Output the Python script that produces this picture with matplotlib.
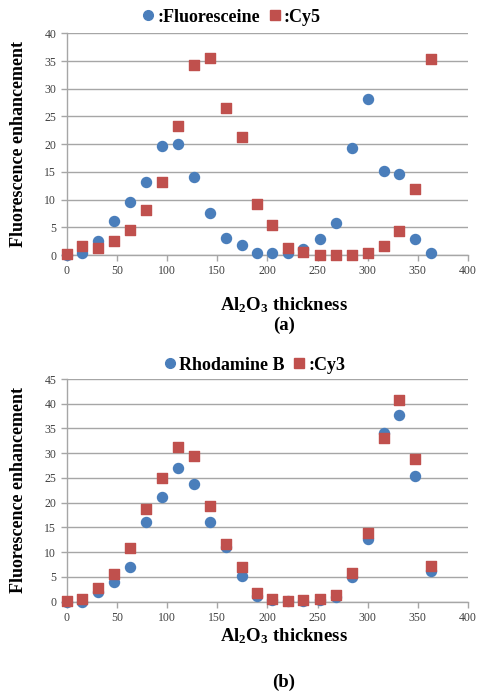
import matplotlib
matplotlib.use("Agg")
import matplotlib.pyplot as plt
from matplotlib.lines import Line2D

plt.rcParams["mathtext.default"] = "regular"

# ---- data ----
thick_a = [0, 15.5, 31, 47, 63, 79, 95, 111, 127, 143, 159, 175, 190, 205, 221, 236, 252, 268, 284, 300, 316, 331, 347, 363]
fluorescein = [0, 0.4, 2.6, 6.2, 9.6, 13.1, 19.7, 20.1, 14.1, 7.6, 3.0, 1.8, 0.3, 0.4, 0.3, 1.1, 2.8, 5.8, 19.3, 28.1, 15.2, 14.7, 2.9, 0.3]
cy5 = [0.1, 1.6, 1.2, 2.6, 4.5, 8.1, 13.2, 23.3, 34.2, 35.6, 26.5, 21.2, 9.2, 5.4, 1.2, 0.5, 0.0, 0.05, 0.0, 0.4, 1.6, 4.3, 11.9, 35.3]

thick_b = [0, 15.5, 31, 47, 63, 79, 95, 111, 127, 143, 159, 175, 190, 205, 221, 236, 252, 268, 284, 300, 316, 331, 347, 363]
rhodamine = [0, 0, 1.9, 4.0, 6.9, 16.1, 21.1, 27.0, 23.8, 16.1, 11.0, 5.2, 1.2, 0.3, 0.1, 0.2, 0.3, 1.0, 5.0, 12.6, 34.0, 37.7, 25.3, 6.2]
cy3 = [0.2, 0.5, 2.7, 5.6, 10.8, 18.7, 24.9, 31.3, 29.5, 19.4, 11.7, 6.9, 1.7, 0.5, 0.2, 0.35, 0.5, 1.3, 5.7, 13.9, 33.0, 40.7, 28.9, 7.2]

yticks_a = [0, 5, 10, 15, 20, 25, 30, 35, 40]
yticks_b = [0, 5, 10, 15, 20, 25, 30, 35, 40, 45]
xticks = [0, 50, 100, 150, 200, 250, 300, 350, 400]

BLUE = "#4A7EBB"
RED = "#C0504D"
SERIF = ["Liberation Serif", "DejaVu Serif"]

fig = plt.figure(figsize=(4.78, 6.93), dpi=100)
W, H = 478, 693

def ax_rect(left, right, top, bottom):
    return [left / W, 1 - bottom / H, (right - left) / W, (bottom - top) / H]

def style(ax, yticks):
    ax.set_xlim(0, 400)
    ax.set_ylim(yticks[0], yticks[-1])
    ax.set_xticks(xticks)
    ax.set_yticks(yticks)
    for s in ["top", "right"]:
        ax.spines[s].set_visible(False)
    for s in ["left", "bottom"]:
        ax.spines[s].set_color("#A6A6A6")
        ax.spines[s].set_linewidth(1.0)
    ax.grid(axis="y", color="#A6A6A6", linewidth=1.0)
    ax.set_axisbelow(True)
    ax.tick_params(axis="both", colors="#A6A6A6", labelcolor="#404040",
                   labelsize=8.5, length=4, width=1)
    for lab in ax.get_xticklabels() + ax.get_yticklabels():
        lab.set_fontfamily(SERIF)

ms = 52
LBL = 13.5

# ---- (a) ----
ax1 = fig.add_axes(ax_rect(66.7, 468, 33.3, 255))
style(ax1, yticks_a)
ax1.scatter(thick_a, fluorescein, s=ms, marker="o", color=BLUE, zorder=3, clip_on=False)
ax1.scatter(thick_a, cy5, s=ms, marker="s", color=RED, zorder=4, clip_on=False)
ax1.set_ylabel("Fluorescence enhancement", fontsize=13, fontweight="bold", family=SERIF)
ax1.yaxis.set_label_coords(-0.10, 0.5)

fig.text(284 / W, 1 - 305 / H, r"Al$_2$O$_3$ thickness", ha="center", va="center",
         fontsize=LBL, fontweight="bold", family=SERIF)
fig.text(284 / W, 1 - 325 / H, "(a)", ha="center", va="center",
         fontsize=LBL, fontweight="bold", family=SERIF)

h1 = [Line2D([], [], marker="o", color=BLUE, linestyle="", markersize=7),
      Line2D([], [], marker="s", color=RED, linestyle="", markersize=7)]
fig.legend(h1, [":Fluoresceine", ":Cy5"], ncol=2, frameon=False,
           loc="center", bbox_to_anchor=(230 / W, 1 - 17 / H),
           handletextpad=0.0, columnspacing=0.3, handlelength=1.0,
           prop={"family": SERIF, "weight": "bold", "size": 13})

# ---- (b) ----
ax2 = fig.add_axes(ax_rect(66.7, 468, 379, 601.5))
style(ax2, yticks_b)
ax2.scatter(thick_b, rhodamine, s=ms, marker="o", color=BLUE, zorder=3, clip_on=False)
ax2.scatter(thick_b, cy3, s=ms, marker="s", color=RED, zorder=4, clip_on=False)
ax2.set_ylabel("Fluorescence enhancement", fontsize=13, fontweight="bold", family=SERIF)
ax2.yaxis.set_label_coords(-0.10, 0.5)

fig.text(284 / W, 1 - 636 / H, r"Al$_2$O$_3$ thickness", ha="center", va="center",
         fontsize=LBL, fontweight="bold", family=SERIF)
fig.text(284 / W, 1 - 682 / H, "(b)", ha="center", va="center",
         fontsize=LBL, fontweight="bold", family=SERIF)

h2 = [Line2D([], [], marker="o", color=BLUE, linestyle="", markersize=7),
      Line2D([], [], marker="s", color=RED, linestyle="", markersize=7)]
fig.legend(h2, ["Rhodamine B", ":Cy3"], ncol=2, frameon=False,
           loc="center", bbox_to_anchor=(253 / W, 1 - 365 / H),
           handletextpad=0.0, columnspacing=0.3, handlelength=1.0,
           prop={"family": SERIF, "weight": "bold", "size": 13})

fig.savefig("out.png", dpi=100)
